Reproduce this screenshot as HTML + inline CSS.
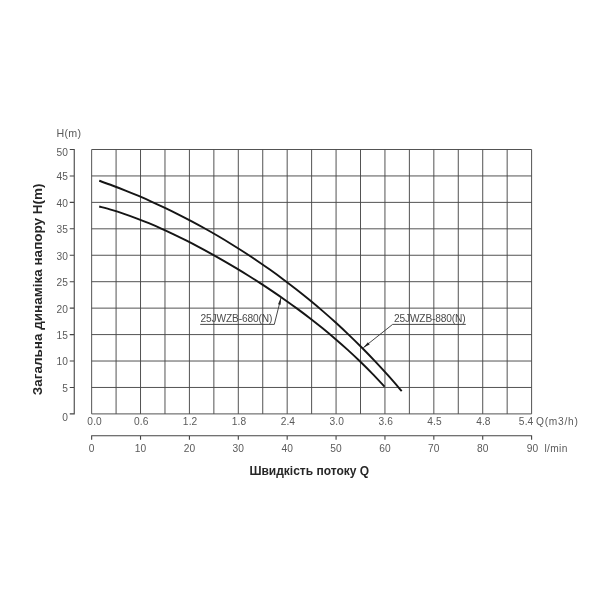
<!DOCTYPE html>
<html lang="uk">
<head>
<meta charset="utf-8">
<title>Графік напору</title>
<style>
html,body{margin:0;padding:0;background:#fff;}
body{width:600px;height:600px;overflow:hidden;}
svg{display:block;filter:blur(0.35px);}
.t{font-family:"Liberation Sans",sans-serif;font-size:10.2px;fill:#5a5a5a;letter-spacing:0.1px;}
.b{font-family:"Liberation Sans",sans-serif;font-weight:bold;fill:#262626;}
.g{stroke:#4a4a4a;stroke-width:0.95;fill:none;}
.a{stroke:#444;stroke-width:1.1;fill:none;}
.c{stroke:#151515;stroke-width:1.9;fill:none;stroke-linecap:butt;}
.l{stroke:#333;stroke-width:0.9;fill:none;}
</style>
</head>
<body>
<svg width="600" height="600" viewBox="0 0 600 600">
<rect width="600" height="600" fill="#ffffff"/>
<path class="g" d="M91.65 149.50V413.90M116.09 149.50V413.90M140.53 149.50V413.90M164.98 149.50V413.90M189.42 149.50V413.90M213.86 149.50V413.90M238.30 149.50V413.90M262.74 149.50V413.90M287.18 149.50V413.90M311.62 149.50V413.90M336.07 149.50V413.90M360.51 149.50V413.90M384.95 149.50V413.90M409.39 149.50V413.90M433.83 149.50V413.90M458.28 149.50V413.90M482.72 149.50V413.90M507.16 149.50V413.90M531.60 149.50V413.90M91.65 149.50H531.60M91.65 175.94H531.60M91.65 202.38H531.60M91.65 228.82H531.60M91.65 255.26H531.60M91.65 281.70H531.60M91.65 308.14H531.60M91.65 334.58H531.60M91.65 361.02H531.60M91.65 387.46H531.60M91.65 413.90H531.60"/>
<path class="a" d="M74.25 149.00V414.40M69.75 149.50H74.25M69.75 175.94H74.25M69.75 202.38H74.25M69.75 228.82H74.25M69.75 255.26H74.25M69.75 281.70H74.25M69.75 308.14H74.25M69.75 334.58H74.25M69.75 361.02H74.25M69.75 387.46H74.25M69.75 413.90H74.25"/>
<path class="a" d="M91.15 435.75H532.10M91.65 435.75V439.75M140.53 435.75V439.75M189.42 435.75V439.75M238.30 435.75V439.75M287.18 435.75V439.75M336.07 435.75V439.75M384.95 435.75V439.75M433.83 435.75V439.75M482.72 435.75V439.75M531.60 435.75V439.75"/>
<text class="t" x="68" y="156.1" text-anchor="end">50</text>
<text class="t" x="68" y="180.3" text-anchor="end">45</text>
<text class="t" x="68" y="206.8" text-anchor="end">40</text>
<text class="t" x="68" y="233.2" text-anchor="end">35</text>
<text class="t" x="68" y="259.7" text-anchor="end">30</text>
<text class="t" x="68" y="286.1" text-anchor="end">25</text>
<text class="t" x="68" y="312.5" text-anchor="end">20</text>
<text class="t" x="68" y="339.0" text-anchor="end">15</text>
<text class="t" x="68" y="365.4" text-anchor="end">10</text>
<text class="t" x="68" y="391.9" text-anchor="end">5</text>
<text class="t" x="68" y="421.1" text-anchor="end">0</text>
<text class="t" x="56.6" y="137.3" style="font-size:10.7px;letter-spacing:0.25px">H(m)</text>
<text class="t" x="94.6" y="425.2" text-anchor="middle">0.0</text>
<text class="t" x="141.2" y="425.2" text-anchor="middle">0.6</text>
<text class="t" x="190.1" y="425.2" text-anchor="middle">1.2</text>
<text class="t" x="239.0" y="425.2" text-anchor="middle">1.8</text>
<text class="t" x="287.9" y="425.2" text-anchor="middle">2.4</text>
<text class="t" x="336.8" y="425.2" text-anchor="middle">3.0</text>
<text class="t" x="385.7" y="425.2" text-anchor="middle">3.6</text>
<text class="t" x="434.5" y="425.2" text-anchor="middle">4.5</text>
<text class="t" x="483.4" y="425.2" text-anchor="middle">4.8</text>
<text class="t" x="526.1" y="425.2" text-anchor="middle">5.4</text>
<text class="t" x="536" y="425.2" textLength="42" lengthAdjust="spacing">Q(m3/h)</text>
<text class="t" x="91.7" y="451.6" text-anchor="middle">0</text>
<text class="t" x="140.5" y="451.6" text-anchor="middle">10</text>
<text class="t" x="189.4" y="451.6" text-anchor="middle">20</text>
<text class="t" x="238.3" y="451.6" text-anchor="middle">30</text>
<text class="t" x="287.2" y="451.6" text-anchor="middle">40</text>
<text class="t" x="336.1" y="451.6" text-anchor="middle">50</text>
<text class="t" x="385.0" y="451.6" text-anchor="middle">60</text>
<text class="t" x="433.8" y="451.6" text-anchor="middle">70</text>
<text class="t" x="482.7" y="451.6" text-anchor="middle">80</text>
<text class="t" x="532.6" y="451.6" text-anchor="middle">90</text>
<text class="t" x="544.5" y="451.6" textLength="23" lengthAdjust="spacing">l/min</text>
<path class="c" d="M99.20 180.76C101.39 181.55 107.97 183.85 112.35 185.49C116.74 187.12 121.12 188.82 125.50 190.57C129.89 192.32 134.27 194.13 138.66 195.99C143.04 197.86 147.42 199.78 151.81 201.76C156.19 203.74 160.58 205.77 164.96 207.87C169.34 209.96 173.73 212.11 178.11 214.32C182.50 216.53 186.88 218.80 191.27 221.12C195.65 223.45 200.03 225.83 204.42 228.28C208.80 230.73 213.19 233.23 217.57 235.80C221.95 238.37 226.34 241.00 230.72 243.70C235.11 246.40 239.49 249.16 243.87 251.99C248.26 254.82 252.64 257.72 257.03 260.69C261.41 263.66 265.79 266.70 270.18 269.82C274.56 272.93 278.95 276.12 283.33 279.40C287.71 282.67 292.10 286.02 296.48 289.46C300.87 292.89 305.25 296.41 309.63 300.02C314.02 303.63 318.40 307.33 322.79 311.13C327.17 314.92 331.56 318.81 335.94 322.80C340.32 326.79 344.71 330.88 349.09 335.08C353.48 339.28 357.86 343.58 362.24 348.01C366.63 352.43 371.01 356.96 375.40 361.62C379.78 366.28 384.16 371.05 388.55 375.97C392.93 380.88 399.51 388.57 401.70 391.09"/>
<path class="c" d="M99.20 206.51C101.27 207.07 107.48 208.65 111.61 209.87C115.75 211.09 119.89 212.42 124.03 213.82C128.16 215.22 132.30 216.73 136.44 218.30C140.58 219.87 144.71 221.52 148.85 223.24C152.99 224.96 157.13 226.75 161.27 228.61C165.40 230.46 169.54 232.38 173.68 234.35C177.82 236.33 181.95 238.36 186.09 240.45C190.23 242.53 194.37 244.68 198.50 246.87C202.64 249.06 206.78 251.30 210.92 253.59C215.06 255.88 219.19 258.21 223.33 260.60C227.47 262.99 231.61 265.42 235.74 267.90C239.88 270.39 244.02 272.92 248.16 275.50C252.29 278.08 256.43 280.71 260.57 283.40C264.71 286.08 268.84 288.82 272.98 291.62C277.12 294.41 281.26 297.26 285.40 300.18C289.53 303.10 293.67 306.08 297.81 309.13C301.95 312.18 306.08 315.30 310.22 318.50C314.36 321.70 318.50 324.97 322.63 328.33C326.77 331.70 330.91 335.14 335.05 338.69C339.19 342.24 343.32 345.87 347.46 349.63C351.60 353.39 355.74 357.24 359.87 361.22C364.01 365.21 368.15 369.31 372.29 373.55C376.42 377.80 382.63 384.50 384.70 386.69"/>
<text class="t" x="200.4" y="321.8" style="font-size:10.2px;fill:#4a4a4a;letter-spacing:0" textLength="72" lengthAdjust="spacing">25JWZB-680(N)</text>
<path class="l" d="M200.2 324.4H274.3L281 297.7"/>
<path d="M281.00 297.70L277.99 304.16L280.61 304.82Z" fill="#222"/>
<text class="t" x="394" y="322.4" style="font-size:10.2px;fill:#4a4a4a;letter-spacing:0" textLength="71.6" lengthAdjust="spacing">25JWZB-880(N)</text>
<path class="l" d="M465.8 324.4H392.6L363.3 347.7"/>
<path d="M363.30 347.70L369.62 344.40L367.94 342.29Z" fill="#222"/>
<text class="b" x="249.4" y="475" style="font-size:12px">Швидкість потоку Q</text>
<text class="b" transform="translate(42.4 395.2) rotate(-90)" style="font-size:13.5px">Загальна динаміка напору H(m)</text>
</svg>
</body>
</html>
